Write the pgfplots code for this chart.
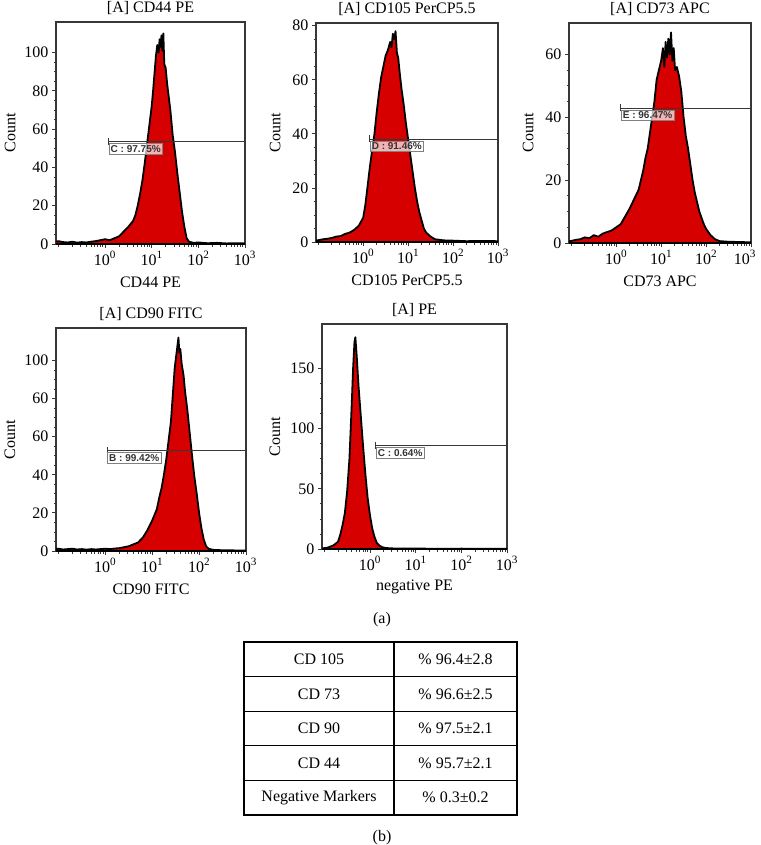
\documentclass[border=0pt]{standalone}
\usepackage{fontspec}
\setmainfont{Liberation Serif}
\usepackage{pgfplots}
\usepackage{pgfplotstable}
\pgfplotsset{compat=1.18}
\newfontfamily\gatefont{Liberation Sans}
\definecolor{histred}{RGB}{214,0,0}
\definecolor{framegray}{RGB}{55,55,55}

% log10(intensity)  count
\pgfplotstableread{
lx c
-1.10 1
-1.00 1.5
-0.90 1
-0.80 0.8
-0.70 1.2
-0.60 0.7
-0.50 1
-0.40 0.8
-0.30 1.2
-0.20 1.5
-0.10 2
0.00 2.5
0.10 2
0.20 3
0.30 4
0.40 6.5
0.50 9
0.60 12
0.65 15
0.70 20
0.75 26
0.80 33
0.85 42
0.90 52
0.95 62
1.00 72
1.03 80
1.06 89
1.09 98
1.12 104
1.15 100
1.17 107
1.19 103
1.21 109
1.23 101
1.25 110
1.27 94
1.30 92
1.33 84
1.36 78
1.40 70
1.45 57
1.50 48
1.55 37
1.60 27
1.65 17
1.70 9
1.75 3
1.80 1.2
1.90 0.6
2.00 0.8
2.20 0.4
2.40 0.6
2.60 0.3
2.80 0.4
3.00 0.3
}\cdA

\pgfplotstableread{
lx c
-1.05 0.5
-0.90 1
-0.80 1.2
-0.70 1.5
-0.60 2
-0.50 2.2
-0.40 3
-0.30 3.5
-0.20 4.5
-0.10 6
0.00 9
0.05 14
0.10 21
0.15 28
0.20 34
0.25 40
0.30 48
0.35 55
0.40 61
0.45 65
0.50 69
0.55 71
0.60 74
0.63 72
0.66 77
0.69 75
0.72 78
0.75 70
0.78 68
0.81 63
0.85 57
0.90 51
0.95 44
1.00 38
1.05 32
1.10 26
1.15 20
1.20 15
1.25 11
1.30 8
1.35 5
1.40 3.5
1.50 2
1.60 1
1.80 0.6
2.00 0.5
2.30 0.3
2.60 0.4
3.00 0.3
}\cdB

\pgfplotstableread{
lx c
-1.05 0.5
-0.90 1
-0.80 1.2
-0.70 1.8
-0.60 1.5
-0.50 2.5
-0.40 2
-0.30 3
-0.20 3.5
-0.10 4
0.00 5
0.10 6
0.20 8.5
0.30 11
0.40 14
0.50 17
0.55 20
0.60 23
0.65 27
0.70 30
0.75 35
0.80 40
0.85 45
0.90 52
0.95 55
1.00 58
1.04 62
1.07 56
1.10 64
1.13 59
1.16 65
1.19 60
1.22 67
1.25 58
1.28 62
1.31 55
1.35 56
1.40 53
1.45 48
1.50 40
1.55 34
1.60 30
1.65 25
1.70 20
1.75 16
1.80 13
1.85 10
1.90 8
1.95 6
2.00 4.5
2.10 2.5
2.20 1.2
2.30 0.6
2.50 0.4
2.80 0.3
3.00 0.2
}\cdC

\pgfplotstableread{
lx c
-1.10 1
-1.00 1.2
-0.90 0.8
-0.80 1
-0.70 1.2
-0.60 0.8
-0.50 1
-0.40 0.7
-0.30 1
-0.20 0.8
-0.10 1
0.00 1.2
0.10 1
0.20 1.3
0.30 1.5
0.40 2
0.50 2.5
0.60 3.5
0.70 4.5
0.80 7
0.90 11
1.00 16
1.10 22
1.15 28
1.20 33
1.25 40
1.30 48
1.35 58
1.40 68
1.44 82
1.48 96
1.51 102
1.54 108
1.56 112
1.58 104
1.60 106
1.63 98
1.67 92
1.70 84
1.75 74
1.80 62
1.85 50
1.90 39
1.95 30
2.00 20
2.05 12
2.10 6
2.15 2.5
2.20 1.2
2.30 0.6
2.50 0.4
2.80 0.3
3.00 0.2
}\cdD

\pgfplotstableread{
lx c
-1.05 0.5
-0.95 1
-0.90 1.5
-0.80 3
-0.70 6
-0.65 12
-0.60 20
-0.55 30
-0.50 48
-0.45 75
-0.40 120
-0.37 150
-0.34 172
-0.32 176
-0.29 160
-0.25 135
-0.20 110
-0.15 85
-0.10 62
-0.05 42
0.00 28
0.05 17
0.10 10
0.15 5
0.20 3
0.27 1.5
0.35 0.8
0.50 0.5
0.80 0.3
1.20 0.3
1.60 0.2
2.00 0.3
2.50 0.2
3.00 0.2
}\cdE

\pgfplotsset{
  every axis/.append style={
    scale only axis,
    xmin=0.089, xmax=1000, ymin=0,
    axis line style={framegray, line width=1.4pt},
    xtick={1,10,100,1000},
    xticklabels={10\textsuperscript{0},10\textsuperscript{1},10\textsuperscript{2},10\textsuperscript{3}},
    minor xtick={0.1,0.2,0.3,0.4,0.5,0.6,0.7,0.8,0.9,2,3,4,5,6,7,8,9,20,30,40,50,60,70,80,90,200,300,400,500,600,700,800,900},
    minor y tick num=3,
    tick align=outside, xtick pos=bottom, ytick pos=left,
    major tick length=4pt, minor tick length=2.5pt,
    every tick/.style={framegray, line width=0.8pt},
    /pgf/number format/assume math mode=true,
    ylabel=Count,
  },
  every tick label/.append style={font=\fontsize{16}{19}\selectfont},
  every axis title/.style={at={(axis description cs:0.5,1)}, anchor=center, yshift=14pt, font=\fontsize{16}{19}\selectfont},
  every axis x label/.style={at={(axis description cs:0.5,0)}, anchor=center, yshift=-38pt, font=\fontsize{16}{19}\selectfont},
  every axis y label/.style={rotate=90, anchor=center, font=\fontsize{16}{19}\selectfont},
}
\tikzset{
  flowplot/.style={fill=histred, draw=black, line width=1.8pt, line join=round},
  gatelbl/.style={anchor=north west, draw=gray, fill=white, fill opacity=0.7, text opacity=1,
    inner sep=1.8pt, yshift=-1.5pt, text=black!80, font=\gatefont\bfseries\fontsize{10}{11}\selectfont},
}

\begin{document}
\begin{tikzpicture}
\useasboundingbox (0,0) rectangle (760pt,-845pt);

% Panel 1: CD44 PE
\begin{axis}[xmode=log, at={(56pt,-244pt)}, anchor=south west, width=189pt, height=222pt,
  ymax=116, ytick={0,20,40,60,80,100}, title={[A] CD44 PE}, xlabel={CD44 PE},
  ylabel style={at={(axis description cs:-0.243,0.5)}}]
\addplot[flowplot] table[x expr={10^(\thisrowno{0})}, y index=1] {\cdA} \closedcycle;
\draw[framegray, line width=1.2pt] (axis cs:1.2,53.4) -- (axis cs:1000,53.4);
\draw[framegray, line width=0.9pt] (axis cs:1.2,53.4) ++(0pt,4pt) -- ++(0pt,-7pt);
\node[gatelbl] at (axis cs:1.2,53.4) {C : 97.75\%};
\end{axis}

% Panel 2: CD105 PerCP5.5
\begin{axis}[xmode=log, at={(316pt,-242pt)}, anchor=south west, width=182pt, height=219pt,
  ymax=81, ytick={0,20,40,60,80}, title={[A] CD105 PerCP5.5}, xlabel={CD105 PerCP5.5},
  ylabel style={at={(axis description cs:-0.225,0.5)}}]
\addplot[flowplot] table[x expr={10^(\thisrowno{0})}, y index=1] {\cdB} \closedcycle;
\draw[framegray, line width=1.2pt] (axis cs:1.4,38) -- (axis cs:1000,38);
\draw[framegray, line width=0.9pt] (axis cs:1.4,38) ++(0pt,4pt) -- ++(0pt,-7pt);
\node[gatelbl] at (axis cs:1.4,38) {D : 91.46\%};
\end{axis}

% Panel 3: CD73 APC
\begin{axis}[xmode=log, at={(569pt,-243pt)}, anchor=south west, width=182pt, height=220pt,
  ymax=70, ytick={0,20,40,60}, title={[A] CD73 APC}, xlabel={CD73 APC},
  xticklabels={10\textsuperscript{0},10\textsuperscript{1},10\textsuperscript{2},\hspace*{-12pt}10\textsuperscript{3}},
  ylabel style={at={(axis description cs:-0.224,0.5)}}]
\addplot[flowplot] table[x expr={10^(\thisrowno{0})}, y index=1] {\cdC} \closedcycle;
\draw[framegray, line width=1.2pt] (axis cs:1.27,42.9) -- (axis cs:1000,42.9);
\draw[framegray, line width=0.9pt] (axis cs:1.27,42.9) ++(0pt,4pt) -- ++(0pt,-7pt);
\node[gatelbl] at (axis cs:1.27,42.9) {E : 96.47\%};
\end{axis}

% Panel 4: CD90 FITC
\begin{axis}[xmode=log, at={(56pt,-551pt)}, anchor=south west, width=190pt, height=223pt,
  ymax=117, ytick={0,20,40,60,80,100}, yticklabels={0,20,40,60,60,100},
  title={[A] CD90 FITC}, xlabel={CD90 FITC},
  ylabel style={at={(axis description cs:-0.242,0.5)}}]
\addplot[flowplot] table[x expr={10^(\thisrowno{0})}, y index=1] {\cdD} \closedcycle;
\draw[framegray, line width=1.2pt] (axis cs:1.1,52.6) -- (axis cs:1000,52.6);
\draw[framegray, line width=0.9pt] (axis cs:1.1,52.6) ++(0pt,4pt) -- ++(0pt,-7pt);
\node[gatelbl] at (axis cs:1.1,52.6) {B : 99.42\%};
\end{axis}

% Panel 5: negative PE
\begin{axis}[xmode=log, at={(322pt,-549pt)}, anchor=south west, width=185pt, height=225pt,
  ymax=187, ytick={0,50,100,150}, title={[A] PE}, xlabel={negative PE},
  ylabel style={at={(axis description cs:-0.254,0.5)}}]
\addplot[flowplot] table[x expr={10^(\thisrowno{0})}, y index=1] {\cdE} \closedcycle;
\draw[framegray, line width=1.2pt] (axis cs:1.35,86) -- (axis cs:1000,86);
\draw[framegray, line width=0.9pt] (axis cs:1.35,86) ++(0pt,4pt) -- ++(0pt,-7pt);
\node[gatelbl] at (axis cs:1.35,86) {C : 0.64\%};
\end{axis}

% captions and table
\begin{scope}[font=\fontsize{16}{19}\selectfont]
\node at (382pt,-620pt) {(a)};
\node at (382pt,-838pt) {(b)};
\draw[line width=1.1pt] (244pt,-642pt) rectangle (517pt,-815pt);
\draw[line width=1.1pt] (394pt,-642pt) -- (394pt,-815pt);
\foreach \yy in {676.6,711.2,745.8,780.4} {
  \draw[line width=1.1pt] (244pt,-\yy pt) -- (517pt,-\yy pt);
}
\node at (319pt,-659.3pt) {CD 105};
\node at (455.5pt,-659.3pt) {\%~96.4\textpm2.8};
\node at (319pt,-693.9pt) {CD 73};
\node at (455.5pt,-693.9pt) {\%~96.6\textpm2.5};
\node at (319pt,-728.5pt) {CD 90};
\node at (455.5pt,-728.5pt) {\%~97.5\textpm2.1};
\node at (319pt,-763.1pt) {CD 44};
\node at (455.5pt,-763.1pt) {\%~95.7\textpm2.1};
\node at (319pt,-797.7pt) {Negative Markers};
\node at (455.5pt,-797.7pt) {\%~0.3\textpm0.2};
\end{scope}
\end{tikzpicture}
\end{document}
